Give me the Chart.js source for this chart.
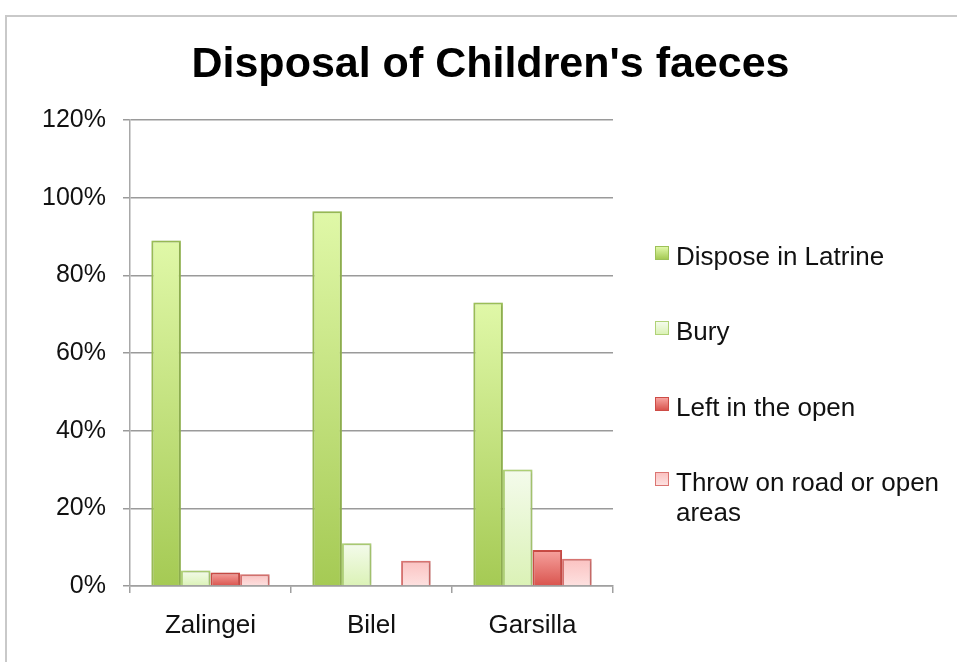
<!DOCTYPE html>
<html>
<head>
<meta charset="utf-8">
<title>Disposal of Children's faeces</title>
<script src="https://cdn.jsdelivr.net/npm/chart.js@4/dist/chart.umd.min.js"></script>
<style>
  body { margin: 0; background: #fff; font-family: "Liberation Sans", Arial, sans-serif; }
  #wrap { position: relative; width: 957px; height: 662px; overflow: hidden; }
  #frame { position: absolute; left: 5px; top: 15px; width: 980px; height: 700px; border: 2px solid #c9c9c9; box-sizing: border-box; }
  #title { position: absolute; left: 12px; top: 41px; width: 957px; text-align: center; font-size: 43px; line-height: 43px; font-weight: bold; color: #000; }
  #chart { position: absolute; left: 0; top: 0; }
  .legend-item { position: absolute; left: 655px; display: flex; align-items: flex-start; }
  .legend-box { width: 12px; height: 12px; border: 1.5px solid; margin-top: 5px; margin-right: 7px; flex: none; }
  .legend-text { font-size: 26px; line-height: 30px; color: #111; width: 280px; }
</style>
</head>
<body>
<div id="wrap">
  <div id="frame"></div>
  <canvas id="chart" width="957" height="662"></canvas>
  <div id="title">Disposal of Children's faeces</div>
  <div id="legend"></div>
</div>
<script>
// --- data ---
const locations = ["Zalingei", "Bilel", "Garsilla"];
const seriesNames = ["Dispose in Latrine", "Bury", "Left in the open", "Throw on road or open areas"];
const latrine = [89, 96.5, 73];
const bury = [4, 11, 30];
const leftOpen = [3.5, 0, 9.3];
const throwRoad = [3, 6.5, 7];
const yTicks = [0, 20, 40, 60, 80, 100, 120];

// gradient top / bottom and outline per series
const seriesStyle = [
  { top: "#e0f8a8", bottom: "#a5ca54", border: "#9dc158" },
  { top: "#f4fbec", bottom: "#dbf2b6", border: "#b0d277" },
  { top: "#f7a39f", bottom: "#d9544e", border: "#cd4c46" },
  { top: "#fbc2c1", bottom: "#fde1e0", border: "#db7572" }
];

function barGradient(ctx, style) {
  const chart = ctx.chart;
  const y = chart.scales.y;
  if (!y || !chart.chartArea) return style.bottom;
  const top = y.getPixelForValue(ctx.raw || 0);
  const base = y.getPixelForValue(0);
  if (base - top < 1) return style.bottom;
  const g = chart.ctx.createLinearGradient(0, top, 0, base);
  g.addColorStop(0, style.top);
  g.addColorStop(1, style.bottom);
  return g;
}

const allSeries = [latrine, bury, leftOpen, throwRoad];
const datasets = allSeries.map((values, i) => ({
  label: seriesNames[i],
  data: values,
  backgroundColor: ctx => barGradient(ctx, seriesStyle[i]),
  borderColor: seriesStyle[i].border,
  borderWidth: ctx => (ctx.raw ? 2 : 0),
  categoryPercentage: 0.735,
  barPercentage: 1
}));

// soft shadow under the bars
const barShadow = {
  id: "barShadow",
  beforeDatasetsDraw(chart) {
    const c = chart.ctx;
    c.save();
    c.shadowColor = "rgba(0,0,0,0.18)";
    c.shadowBlur = 3;
    c.shadowOffsetX = 1;
    c.shadowOffsetY = 0;
  },
  afterDatasetsDraw(chart) {
    chart.ctx.restore();
  }
};

new Chart(document.getElementById("chart"), {
  type: "bar",
  data: { labels: locations, datasets },
  plugins: [barShadow],
  options: {
    responsive: false,
    devicePixelRatio: 1,
    animation: false,
    layout: { padding: { left: 0, top: 120, right: 344, bottom: 0 } },
    plugins: {
      legend: { display: false },
      title: { display: false },
      tooltip: { enabled: false }
    },
    scales: {
      x: {
        afterFit: s => { s.height = 76; },
        grid: { drawOnChartArea: false, drawTicks: true, tickLength: 7, color: "#a0a0a0", lineWidth: 1.5 },
        border: { color: "#a0a0a0", width: 1.5 },
        ticks: { color: "#111", padding: 17, font: { family: "Liberation Sans", size: 26 } }
      },
      y: {
        min: 0,
        max: 120,
        afterFit: s => { s.width = 130; },
        afterBuildTicks: s => { s.ticks = yTicks.map(v => ({ value: v })); },
        grid: { color: "#9a9a9a", lineWidth: 1.5, drawTicks: true, tickLength: 7 },
        border: { color: "#a8a8a8", width: 1.5 },
        ticks: {
          color: "#111",
          padding: 17,
          font: { family: "Liberation Sans", size: 25 },
          callback: v => v + "%"
        }
      }
    }
  }
});

// legend on the right, one row per series
const legendTops = [241, 316, 392, 467];
const legend = document.getElementById("legend");
seriesNames.forEach((name, i) => {
  const st = seriesStyle[i];
  const item = document.createElement("div");
  item.className = "legend-item";
  item.style.top = legendTops[i] + "px";
  item.innerHTML = `<div class="legend-box" style="border-color:${st.border};background:linear-gradient(${st.top},${st.bottom})"></div><div class="legend-text">${name}</div>`;
  legend.appendChild(item);
});
</script>
</body>
</html>
